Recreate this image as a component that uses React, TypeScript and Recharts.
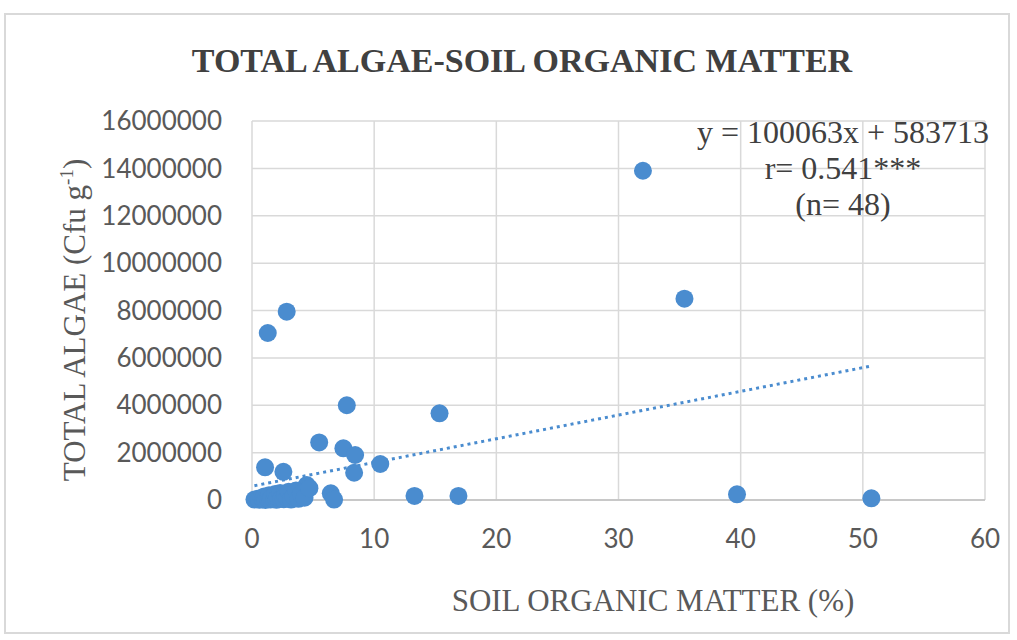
import { ScatterChart, Scatter, XAxis, YAxis, CartesianGrid, Label } from 'recharts';

// soil organic matter (%) and total algae (cfu/g)
const organicMatter = [
  32.0, 35.4, 2.84, 1.29, 7.76, 15.35, 5.5, 7.48, 8.44, 8.36,
  10.5, 13.3, 16.9, 39.7, 50.7, 1.07, 2.57, 4.48, 6.45, 6.72,
  0.2, 0.5, 0.6, 0.8, 0.9, 1.0, 1.1, 1.3, 1.4, 1.5,
  1.6, 1.8, 1.9, 2.0, 2.1, 2.3, 2.4, 2.6, 2.7, 2.9,
  3.0, 3.2, 3.4, 3.6, 3.8, 4.0, 4.3, 4.7,
];
const totalAlgae = [
  13900000, 8500000, 7950000, 7050000, 4000000, 3660000, 2430000, 2180000, 1900000, 1150000,
  1520000, 170000, 170000, 240000, 70000, 1380000, 1190000, 630000, 280000, 20000,
  20000, 50000, 10000, 80000, 30000, 150000, 5000, 60000, 200000, 20000,
  100000, 40000, 250000, 10000, 120000, 300000, 60000, 30000, 180000, 80000,
  350000, 20000, 150000, 400000, 50000, 250000, 100000, 500000,
];

const xTicks = [0, 10, 20, 30, 40, 50, 60];
const yTicks = [0, 2000000, 4000000, 6000000, 8000000, 10000000, 12000000, 14000000, 16000000];

const slope = 100063;
const intercept = 583713;
const equationLines = ['y = 100063x + 583713', 'r= 0.541***', '(n= 48)'];

const points = organicMatter.map((x, i) => ({ x, y: totalAlgae[i] }));
const xMin = Math.min(...organicMatter);
const xMax = Math.max(...organicMatter);
const trend = [
  { x: xMin, y: slope * xMin + intercept },
  { x: xMax, y: slope * xMax + intercept },
];

const BLUE = '#4a8ccf';
const tickStyle = { fontFamily: 'Lato, "Open Sans", sans-serif', fontSize: 26, fill: '#595959' };
const serif = '"Liberation Serif", "Times New Roman", serif';

const Dot = (props: any) => <circle cx={props.cx} cy={props.cy} r={9} fill={BLUE} />;
const NoDot = () => <g />;

export default function App() {
  return (
    <div style={{ position: 'absolute', left: 0, top: 0, width: 1017, height: 640, background: '#fff' }}>
      <div
        style={{
          position: 'absolute', left: 4, top: 13, width: 1006, height: 621,
          border: '2px solid #d9d9d9', boxSizing: 'border-box',
        }}
      />
      <ScatterChart width={1017} height={640} margin={{ top: 121, right: 32, bottom: 0, left: 0 }}>
        <CartesianGrid stroke="#d9d9d9" strokeWidth={1.5} />
        <XAxis
          type="number"
          dataKey="x"
          domain={[0, 60]}
          ticks={xTicks}
          height={140}
          tickSize={0}
          tickMargin={30}
          tick={tickStyle}
          axisLine={{ stroke: '#bfbfbf', strokeWidth: 1.5 }}
          tickLine={false}
        >
          <Label
            content={() => (
              <text x={653} y={611} textAnchor="middle" fontFamily={serif} fontSize={31} fill="#595959">
                SOIL ORGANIC MATTER (%)
              </text>
            )}
          />
        </XAxis>
        <YAxis
          type="number"
          dataKey="y"
          domain={[0, 16000000]}
          ticks={yTicks}
          width={252}
          tickSize={0}
          tickMargin={30}
          tick={tickStyle}
          axisLine={false}
          tickLine={false}
        >
          <Label
            content={() => (
              <text transform="translate(85,320) rotate(-90)" textAnchor="middle" fontFamily={serif} fontSize={31} fill="#595959">
                TOTAL ALGAE (Cfu g<tspan dy={-12} fontSize={19}>-1</tspan><tspan dy={12}>)</tspan>
              </text>
            )}
          />
        </YAxis>
        <Scatter
          data={trend}
          shape={NoDot}
          line={{ stroke: BLUE, strokeWidth: 3, strokeDasharray: '3 4' }}
          isAnimationActive={false}
        />
        <Scatter data={points} shape={Dot} isAnimationActive={false} />
      </ScatterChart>
      <svg
        width={1017}
        height={640}
        style={{ position: 'absolute', left: 0, top: 0, pointerEvents: 'none' }}
      >
        <text x={522} y={72} textAnchor="middle" fontFamily={serif} fontWeight="bold" fontSize={34} fill="#404040">
          TOTAL ALGAE-SOIL ORGANIC MATTER
        </text>
        {equationLines.map((line, i) => (
          <text
            key={line}
            x={843}
            y={[143, 179, 215][i]}
            textAnchor="middle"
            fontFamily={serif}
            fontSize={32}
            fill="#404040"
          >
            {line}
          </text>
        ))}
      </svg>
    </div>
  );
}
